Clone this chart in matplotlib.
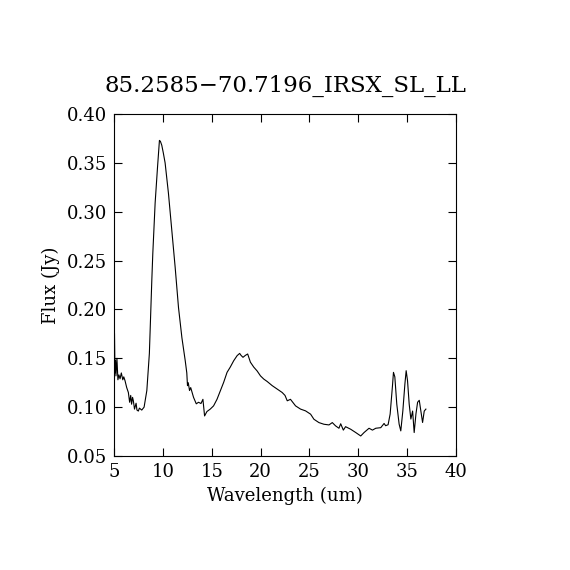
import matplotlib
matplotlib.use("Agg")
import matplotlib.pyplot as plt
import matplotlib.ticker as ticker

title = "85.2585\u221270.7196_IRSX_SL_LL"

wave = [5.05, 5.10, 5.15, 5.20, 5.30, 5.40, 5.50, 5.62, 5.75, 5.90,
        6.00, 6.13, 6.30, 6.47, 6.60, 6.71, 6.80, 6.90, 6.98, 7.10,
        7.26, 7.35, 7.49, 7.60, 7.84, 8.08, 8.36, 8.62, 8.77, 8.87,
        8.97, 9.21, 9.45, 9.65, 9.75, 9.89, 10.05, 10.23, 10.57, 10.92,
        11.26, 11.60, 11.95, 12.29, 12.45, 12.52, 12.60, 12.73, 12.85, 13.14,
        13.42, 13.65, 13.90, 14.10, 14.27, 14.51, 14.85, 15.19, 15.54, 15.88,
        16.22, 16.57, 16.90, 17.25, 17.60, 17.86, 18.00, 18.20, 18.45, 18.68,
        18.96, 19.30, 19.65, 19.99, 20.33, 20.67, 21.19, 21.70, 22.21, 22.50,
        22.73, 23.06, 23.58, 24.09, 24.60, 25.12, 25.46, 25.97, 26.48, 27.00,
        27.34, 27.68, 28.02, 28.20, 28.47, 28.70, 29.22, 29.74, 30.25, 30.59,
        31.10, 31.45, 31.79, 32.30, 32.64, 32.80, 33.05, 33.26, 33.50, 33.60,
        33.74, 33.94, 34.18, 34.35, 34.56, 34.77, 34.90, 35.04, 35.21, 35.38,
        35.56, 35.72, 35.90, 36.07, 36.24, 36.40, 36.58, 36.75, 36.92]

flux = [0.175, 0.135, 0.148, 0.132, 0.150, 0.128, 0.133, 0.129, 0.135, 0.128,
        0.131, 0.127, 0.120, 0.115, 0.105, 0.112, 0.103, 0.110, 0.1065, 0.098,
        0.104, 0.097, 0.096, 0.099, 0.097, 0.100, 0.117, 0.155, 0.202, 0.230,
        0.257, 0.309, 0.345, 0.373, 0.372, 0.368, 0.360, 0.350, 0.319, 0.281,
        0.243, 0.202, 0.171, 0.1475, 0.135, 0.122, 0.125, 0.117, 0.120, 0.110,
        0.1034, 0.105, 0.1037, 0.108, 0.091, 0.0955, 0.098, 0.1013, 0.108, 0.1167,
        0.1253, 0.1356, 0.141, 0.1475, 0.1527, 0.155, 0.153, 0.151, 0.153, 0.1544,
        0.146, 0.141, 0.137, 0.132, 0.1287, 0.1263, 0.122, 0.1185, 0.115, 0.112,
        0.1065, 0.108, 0.1013, 0.098, 0.0962, 0.0928, 0.0876, 0.0842, 0.0825, 0.0818,
        0.0842, 0.0808, 0.0784, 0.083, 0.0765, 0.080, 0.0774, 0.074, 0.0705, 0.074,
        0.0784, 0.0765, 0.0784, 0.079, 0.0833, 0.081, 0.082, 0.0929, 0.122, 0.1356,
        0.131, 0.103, 0.0826, 0.0757, 0.0962, 0.1237, 0.1373, 0.127, 0.103, 0.0878,
        0.096, 0.074, 0.093, 0.105, 0.107, 0.096, 0.0843, 0.096, 0.098]

plt.rcParams['font.family'] = ['DejaVu Serif']

fig = plt.figure(figsize=(5.7, 5.7), dpi=100)
ax = fig.add_axes([0.2, 0.2, 0.6, 0.6])
ax.plot(wave, flux, color='black', linewidth=0.8)

ax.set_xlim(5, 40)
ax.set_ylim(0.05, 0.40)
ax.xaxis.set_major_locator(ticker.MultipleLocator(5))
ax.yaxis.set_major_locator(ticker.MultipleLocator(0.05))
ax.yaxis.set_major_formatter(ticker.FormatStrFormatter('%.2f'))
ax.tick_params(direction='in', top=True, right=True, length=6, width=0.8,
               labelsize=13, pad=5)
for s in ax.spines.values():
    s.set_linewidth(0.8)

ax.set_xlabel("Wavelength (um)", fontsize=13, labelpad=4)
ax.set_ylabel("Flux (Jy)", fontsize=13, labelpad=5)
ax.set_title(title, fontsize=16.5, pad=16)

fig.savefig("out.png", dpi=100)
